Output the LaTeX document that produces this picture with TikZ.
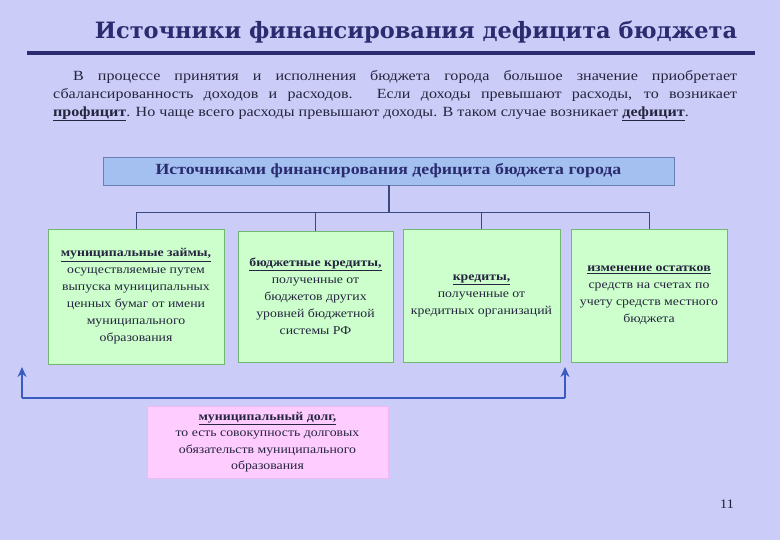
\documentclass[tikz,border=0pt]{standalone}
\usepackage{fontspec}
\setmainfont[FakeStretch=1.15]{Liberation Serif}
\newfontfamily\titlefont{DejaVu Serif}
\usetikzlibrary{arrows.meta}
\definecolor{bgc}{HTML}{CCCCF8}
\definecolor{navy}{HTML}{2B2B70}
\definecolor{txt}{HTML}{25253F}
\definecolor{bluebox}{HTML}{A4C0F0}
\definecolor{blueedge}{HTML}{6A80B0}
\definecolor{greenbox}{HTML}{CCFFCC}
\definecolor{greenedge}{HTML}{70B870}
\definecolor{pinkbox}{HTML}{FFCCFF}
\definecolor{pinkedge}{HTML}{F0B8F0}
\definecolor{linec}{HTML}{3A4A80}
\definecolor{arrowc}{HTML}{3A5CC0}
\tikzset{
  srcbox/.style={draw=greenedge, fill=greenbox, line width=0.8pt, inner sep=0pt, align=center, text=txt, font=\fontsize{12}{17}\selectfont},
  conn/.style={draw=linec, line width=0.9pt},
  backline/.style={draw=arrowc, line width=2.2pt},
  backarrow/.style={backline, -{Stealth[length=10pt,width=9pt]}},
}
\begin{document}
\begin{tikzpicture}[x=1pt,y=-1pt]
\useasboundingbox (0,0) rectangle (780,540);
\fill[bgc] (0,0) rectangle (780,540);
% title
\node[font=\titlefont\bfseries\fontsize{22.5}{26}\selectfont, text=navy, anchor=center] (title) at (416,32) {Источники финансирования дефицита бюджета};
\draw[navy, line width=3.5pt] (27,53) -- (755,53);
% paragraph
\node[anchor=north west, inner sep=0pt, text width=684pt, align=justify, text=txt, font=\fontsize{14}{18}\selectfont] (para) at (53,70) {\hspace*{20pt}В процессе принятия и исполнения бюджета города большое значение приобретает\linebreak сбалансированность доходов и расходов. Если доходы превышают расходы, то возникает\linebreak \underline{\textbf{профицит}}. Но чаще всего расходы превышают доходы. В таком случае возникает \underline{\textbf{дефицит}}.};
% top box
\node[draw=blueedge, fill=bluebox, line width=0.8pt, minimum width=571pt, minimum height=28pt, inner sep=0pt, text=navy, font=\bfseries\fontsize{15.5}{17}\selectfont] (top) at (388.5,171) {Источниками финансирования дефицита бюджета города};
% boxes
\node[srcbox, minimum width=176pt, minimum height=135pt] (b1) at (136,296.5) {\underline{\textbf{муниципальные займы,}}\\осуществляемые путем\\выпуска муниципальных\\ценных бумаг от имени\\муниципального\\образования};
\node[srcbox, minimum width=155pt, minimum height=131pt] (b2) at (315.5,296.5) {\underline{\textbf{бюджетные кредиты,}}\\полученные от\\бюджетов других\\уровней бюджетной\\системы РФ};
\node[srcbox, minimum width=157pt, minimum height=133pt] (b3) at (481.5,295.5) {\underline{\textbf{кредиты,}}\\полученные от\\кредитных организаций};
\node[srcbox, minimum width=156pt, minimum height=133pt] (b4) at (649,295.5) {\underline{\textbf{изменение остатков}}\\средств на счетах по\\учету средств местного\\бюджета};
% tree connectors
\coordinate (hub) at (389,212);
\draw[conn, line width=1.8pt] (top.south -| hub) -- (hub);
\draw[conn] (b1.north |- hub) -- (b4.north |- hub);
\draw[conn] (b1.north |- hub) -- (b1.north);
\draw[conn] (b2.north |- hub) -- (b2.north);
\draw[conn] (b3.north |- hub) -- (b3.north);
\draw[conn] (b4.north |- hub) -- (b4.north);
% debt box
\node[draw=pinkedge, fill=pinkbox, line width=0.8pt, minimum width=241pt, minimum height=72pt, inner sep=0pt, align=center, text=txt, font=\fontsize{12}{16.5}\selectfont] (debt) at (267.5,442) {\underline{\textbf{муниципальный долг,}}\\то есть совокупность долговых\\обязательств муниципального\\образования};
% arrows
\coordinate (aL) at (22,398);
\coordinate (aR) at (565,398);
\coordinate (tL) at (22,367);
\coordinate (tR) at (565,367);
\draw[backarrow] (aL) -- (tL);
\draw[backarrow] (aR) -- (tR);
\draw[backline] (aL) -- (aR);
% page number
\node[text=txt, font=\fontsize{13}{15}\selectfont] (pg) at (727,504) {11};
\end{tikzpicture}
\end{document}
